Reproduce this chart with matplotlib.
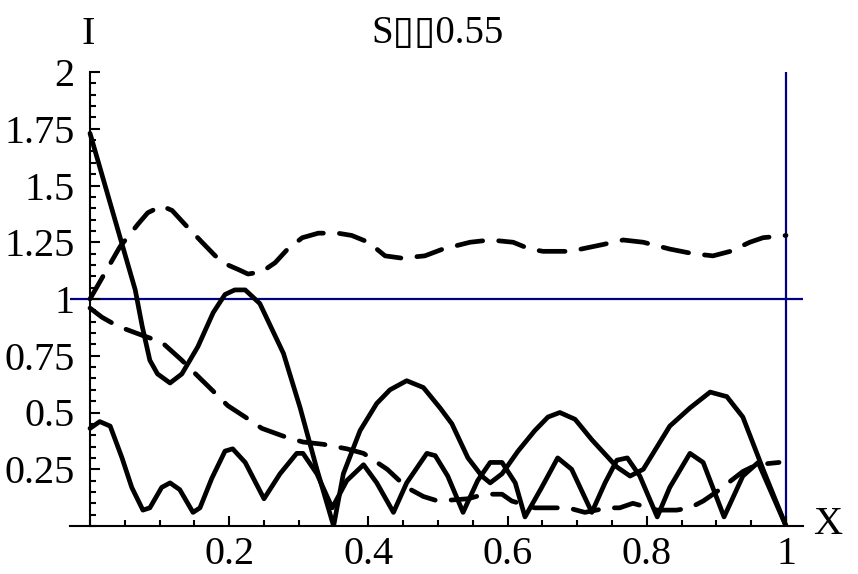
import numpy as np
from matplotlib import pyplot as plt
from matplotlib.ticker import MultipleLocator

# solid curve with the large oscillation
xa = [0, 0.065, 0.075, 0.086, 0.097, 0.115, 0.132, 0.155, 0.177, 0.194, 0.208, 0.223,
      0.244, 0.278, 0.302, 0.326, 0.35, 0.364, 0.388, 0.412, 0.431, 0.455, 0.479, 0.503,
      0.520, 0.543, 0.563, 0.575, 0.592, 0.615, 0.639, 0.658, 0.675, 0.697, 0.721, 0.757,
      0.776, 0.795, 0.833, 0.862, 0.891, 0.915, 0.938, 0.967, 1.0]
ya = [1.73, 1.04, 0.88, 0.73, 0.67, 0.63, 0.67, 0.79, 0.94, 1.02, 1.04, 1.04,
      0.98, 0.76, 0.52, 0.25, 0.0, 0.23, 0.42, 0.54, 0.60, 0.64, 0.61, 0.52,
      0.45, 0.30, 0.22, 0.19, 0.23, 0.33, 0.42, 0.48, 0.50, 0.47, 0.38, 0.26,
      0.22, 0.25, 0.44, 0.52, 0.59, 0.57, 0.48, 0.25, 0.0]

# solid curve with the small oscillation
xb = [0, 0.014, 0.029, 0.046, 0.06, 0.076, 0.086, 0.103, 0.115, 0.129, 0.148, 0.158,
      0.175, 0.194, 0.205, 0.223, 0.25, 0.273, 0.297, 0.306, 0.326, 0.348, 0.369, 0.393,
      0.412, 0.436, 0.455, 0.484, 0.496, 0.514, 0.536, 0.557, 0.575, 0.592, 0.611, 0.625,
      0.649, 0.672, 0.692, 0.721, 0.74, 0.757, 0.772, 0.790, 0.815, 0.833, 0.862, 0.881,
      0.911, 0.938, 0.96, 1.0]
yb = [0.43, 0.46, 0.44, 0.30, 0.17, 0.07, 0.08, 0.17, 0.19, 0.16, 0.06, 0.08,
      0.21, 0.33, 0.34, 0.28, 0.12, 0.23, 0.32, 0.32, 0.23, 0.08, 0.20, 0.27,
      0.19, 0.06, 0.19, 0.32, 0.31, 0.22, 0.06, 0.20, 0.28, 0.28, 0.19, 0.04,
      0.17, 0.30, 0.25, 0.06, 0.19, 0.29, 0.30, 0.22, 0.04, 0.17, 0.32, 0.28,
      0.04, 0.22, 0.28, 0.0]

# upper dashed curve
xc = [0, 0.043, 0.069, 0.083, 0.103, 0.118, 0.136, 0.161, 0.18, 0.198, 0.213, 0.227,
      0.247, 0.266, 0.284, 0.305, 0.328, 0.356, 0.376, 0.4, 0.424, 0.448, 0.481, 0.507,
      0.546, 0.575, 0.608, 0.632, 0.651, 0.69, 0.737, 0.766, 0.795, 0.833, 0.866, 0.895,
      0.92, 0.948, 0.967, 1.0]
yc = [1.0, 1.23, 1.33, 1.38, 1.41, 1.39, 1.33, 1.25, 1.19, 1.15, 1.13, 1.11,
      1.12, 1.16, 1.22, 1.27, 1.29, 1.29, 1.28, 1.25, 1.19, 1.18, 1.19, 1.22,
      1.25, 1.26, 1.25, 1.22, 1.21, 1.21, 1.24, 1.26, 1.25, 1.22, 1.20, 1.19,
      1.21, 1.25, 1.27, 1.28]

# lower dashed curve
xd = [0, 0.017, 0.04, 0.075, 0.103, 0.132, 0.155, 0.175, 0.198, 0.223, 0.247, 0.283,
      0.306, 0.335, 0.369, 0.393, 0.427, 0.455, 0.479, 0.5, 0.543, 0.567, 0.592, 0.606,
      0.639, 0.663, 0.687, 0.711, 0.744, 0.761, 0.78, 0.815, 0.843, 0.862, 0.881, 0.9,
      0.938, 0.958, 0.99]
yd = [0.96, 0.92, 0.88, 0.84, 0.81, 0.73, 0.66, 0.60, 0.53, 0.48, 0.43, 0.39,
      0.37, 0.36, 0.34, 0.32, 0.25, 0.17, 0.13, 0.11, 0.12, 0.14, 0.14, 0.11,
      0.08, 0.08, 0.08, 0.06, 0.08, 0.08, 0.10, 0.07, 0.07, 0.08, 0.11, 0.15,
      0.24, 0.27, 0.28]

xticks = [0.2, 0.4, 0.6, 0.8, 1.0]
xlabels = ['0.2', '0.4', '0.6', '0.8', '1']
yticks = [0.25, 0.5, 0.75, 1.0, 1.25, 1.5, 1.75, 2.0]
ylabels = ['0.25', '0.5', '0.75', '1', '1.25', '1.5', '1.75', '2']

plt.rcParams['font.family'] = ['Liberation Serif', 'DejaVu Sans']
W, H = 858, 574
fig = plt.figure(figsize=(W / 100, H / 100), dpi=100)
ax = fig.add_axes([70 / W, 48 / H, 733 / W, 454 / H])

navy = '#000080'
ax.axhline(1, color=navy, lw=1.6, zorder=1)
ax.axvline(1, color=navy, lw=1.6, zorder=1)

kw = dict(color='black', lw=3.4, solid_capstyle='round', dash_capstyle='round',
          solid_joinstyle='round', zorder=3)
ax.plot(xa, ya, **kw)
ax.plot(xb, yb, **kw)
ax.plot(xc, yc, dashes=(5.5, 3.4), **kw)
ax.plot(xd, yd, dashes=(5.5, 3.4), **kw)

ax.set_xlim(-20 / 696, 713 / 696)
ax.set_ylim(0, 2)

for s in ['top', 'right']:
    ax.spines[s].set_visible(False)
ax.spines['left'].set_position(('data', 0))
ax.spines['left'].set_bounds(0, 2)
ax.spines['left'].set_linewidth(1.5)
ax.spines['bottom'].set_linewidth(1.5)

ax.set_xticks(xticks, labels=xlabels)
ax.set_yticks(yticks, labels=ylabels)
ax.xaxis.set_minor_locator(MultipleLocator(0.05))
ax.yaxis.set_minor_locator(MultipleLocator(0.05))
ax.tick_params(which='major', direction='in', length=7, width=1.5, labelsize=29)
ax.tick_params(which='minor', direction='in', length=4, width=1.5)
ax.tick_params(axis='x', pad=7)
ax.tick_params(axis='y', pad=11)

fig.text(88 / W, 1 - 35 / H, 'I', fontsize=29, ha='center', va='center')
fig.text(828 / W, 1 - 525 / H, 'X', fontsize=29, ha='center', va='center')
fig.text(437 / W, 1 - 33 / H, 'S\u25af\u25af0.55', fontsize=28, ha='center', va='center')

fig.savefig('out.png', dpi=100)
